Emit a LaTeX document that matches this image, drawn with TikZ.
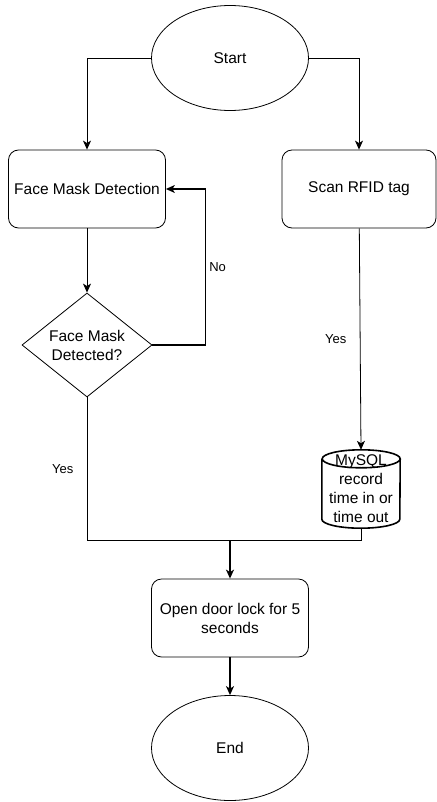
\documentclass[tikz,border=0pt]{standalone}
\usepackage{fontspec}
\setmainfont{Liberation Sans}
\usetikzlibrary{positioning, shapes.geometric, arrows.meta}

\begin{document}
\begin{tikzpicture}[x=1pt, y=-1pt,
    every node/.style={font=\fontsize{15.5}{19}\selectfont},
    terminal/.style={ellipse, draw, line width=0.8pt, minimum width=157pt, minimum height=105pt},
    process/.style={rectangle, rounded corners=10pt, draw, line width=0.8pt,
                    minimum width=157pt, minimum height=78pt, align=center},
    decision/.style={diamond, draw, line width=0.8pt, aspect=1.25, inner sep=0pt,
                     minimum width=130pt, minimum height=104pt, align=center},
    database/.style={rectangle, minimum width=78pt, minimum height=78pt, inner sep=0pt, align=center},
    dbline/.style={draw, line width=1.6pt},
    line/.style={draw, line width=0.8pt},
    flow/.style={line, -{Stealth[length=9pt, width=8pt, inset=2.5pt]}},
    thickflow/.style={flow, line width=1.4pt},
    edgelabel/.style={font=\fontsize{13}{16}\selectfont}]

    \useasboundingbox (0,0) rectangle (436,802);

    % nodes
    \node [terminal] (start) at (230,58) {Start};
    \node [process] (mask) at (87,189) {Face Mask Detection};
    \node [process, minimum width=154pt] (rfid) at (359,189) {Scan RFID tag};
    \node [decision] (check) at (87,345) {Face Mask\\Detected?};
    \node [database] (sql) at (361,489) {MySQL\\record\\time in or\\time out};
    \node [process] (door) at (230,618) {Open door lock for 5\\seconds};
    \node [terminal] (end) at (230,748) {End};
    \coordinate (merge) at (230,540);

    % database drum
    \draw [dbline] ([yshift=-9pt]sql.north west) -- ([yshift=9pt]sql.south west)
        arc [start angle=180, end angle=360, x radius=39pt, y radius=9pt]
        -- ([yshift=-9pt]sql.north east)
        arc [start angle=0, end angle=360, x radius=39pt, y radius=9pt];

    % connectors
    \draw [flow] (start.west) -| (mask.north);
    \draw [flow] (start.east) -| (rfid.north);
    \draw [flow] (mask) -- (check);
    \draw [thickflow, line width=1.1pt] (check.east) -- ++(53,0) |- (mask.east)
        node [edgelabel, pos=0.25, right] {No};
    \draw [flow] (rfid) -- (sql.north) node [edgelabel, midway, left=10pt] {Yes};
    \draw [line] (check.south) -- (check.south |- merge)
        node [edgelabel, midway, left=10pt] {Yes}
        -- (sql.south |- merge) -- (sql.south);
    \draw [thickflow] (merge) -- (door);
    \draw [thickflow] (door) -- (end);
\end{tikzpicture}
\end{document}
